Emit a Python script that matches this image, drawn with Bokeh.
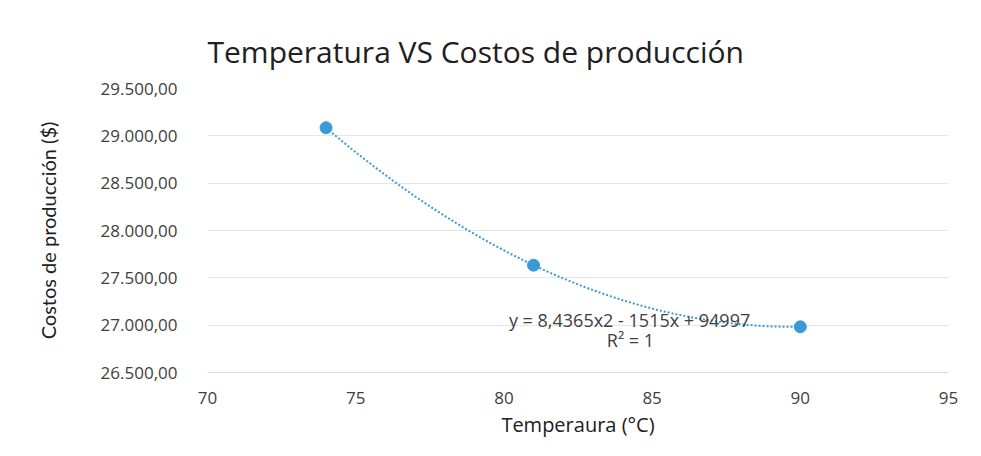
import numpy as np
from bokeh.plotting import figure
from bokeh.models import FixedTicker, Range1d, Label
from bokeh.embed import file_html
from bokeh.resources import INLINE

# Data
temperatura = [74, 81, 90]
costos = [29085.3, 27633.9, 26982.7]
x_ticks = [70, 75, 80, 85, 90, 95]
y_ticks = [26500, 27000, 27500, 28000, 28500, 29000, 29500]
y_tick_labels = ["26.500,00", "27.000,00", "27.500,00", "28.000,00",
                 "28.500,00", "29.000,00", "29.500,00"]
equation_text = "y = 8,4365x2 - 1515x + 94997"
r2_text = "R² = 1"

BLUE = "#3A9AD9"
TEXT = "#404040"

p = figure(width=965, height=440, output_backend="svg", toolbar_location=None,
           x_range=Range1d(70, 95), y_range=Range1d(26500, 29500),
           title="Temperatura VS Costos de producción",
           min_border_left=207, min_border_right=17, min_border_bottom=66,
           min_border_top=88)
p.background_fill_color = "white"
p.border_fill_color = "white"
p.outline_line_color = None

p.title.align = "left"
p.title.text_font = "Open Sans"
p.title.text_font_size = "30px"
p.title.text_font_style = "normal"
p.title.text_color = "#202020"
p.title.standoff = 34

# axes
p.xaxis.ticker = FixedTicker(ticks=x_ticks)
p.yaxis.ticker = FixedTicker(ticks=y_ticks)
p.yaxis.major_label_overrides = {t: l for t, l in zip(y_ticks, y_tick_labels)}
for ax in (p.xaxis[0], p.yaxis[0]):
    ax.major_tick_line_color = None
    ax.minor_tick_line_color = None
    ax.major_label_text_font = "Open Sans"
    ax.major_label_text_font_size = "17px"
    ax.major_label_text_color = TEXT
    ax.axis_label_text_color = "#202020"
    ax.axis_label_text_font_style = "normal"
p.yaxis.axis_line_color = None
p.xaxis.axis_line_color = "#d9d9d9"
p.yaxis.major_label_standoff = 24
p.xaxis.major_label_standoff = 13
p.xaxis.axis_label = "Temperaura (°C)"
p.xaxis.axis_label_text_font = "Open Sans"
p.xaxis.axis_label_text_font_size = "20px"
p.xaxis.axis_label_standoff = 4
p.yaxis.axis_label = "Costos de producción ($)"
p.yaxis.axis_label_text_font = "Lato"
p.yaxis.axis_label_text_font_size = "20px"
p.yaxis.axis_label_standoff = 38

p.xgrid.grid_line_color = None
p.ygrid.grid_line_color = "#e6e6e6"

# polynomial trendline (order 2) fitted from the data
coef = np.polyfit(temperatura, costos, 2)
xs = np.linspace(min(temperatura), max(temperatura), 100)
p.line(xs, np.polyval(coef, xs), line_color=BLUE, line_width=2, line_dash="2 2")

p.scatter(temperatura, costos, size=12, fill_color=BLUE, line_color=BLUE)

p.add_layout(Label(x=84.24, y=27058, text=equation_text, text_align="center",
                   text_baseline="middle", text_font="Open Sans",
                   text_font_size="18px", text_color=TEXT))
p.add_layout(Label(x=84.27, y=26847, text=r2_text, text_align="center",
                   text_baseline="middle", text_font="Open Sans",
                   text_font_size="18px", text_color=TEXT))

open("out.html", "w").write(file_html(p, INLINE))
